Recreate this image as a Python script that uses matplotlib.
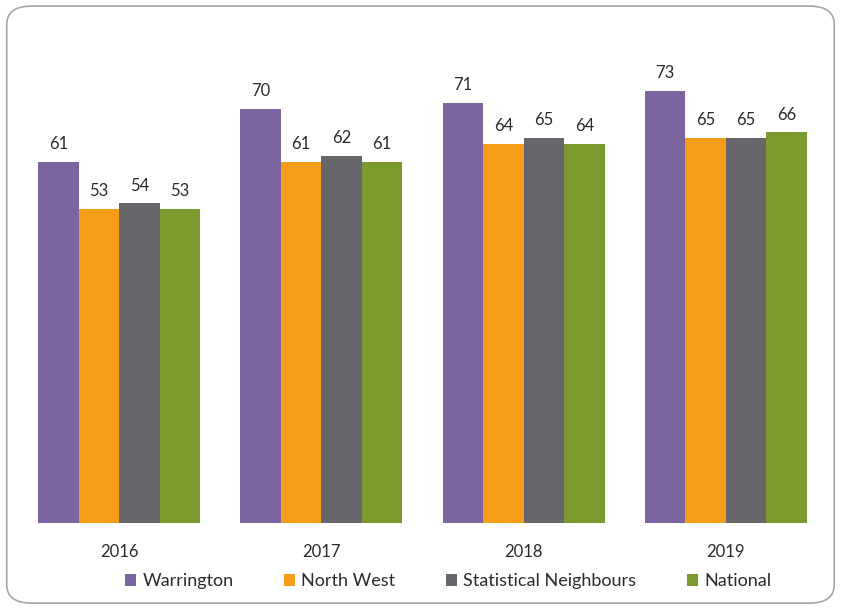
import numpy as np
import matplotlib.pyplot as plt
from matplotlib.patches import FancyBboxPatch

# datos del grafico
years = ['2016', '2017', '2018', '2019']
warrington = [61, 70, 71, 73]
north_west = [53, 61, 64, 65]
stat_neighbours = [54, 62, 65, 65]
national = [53, 61, 64, 66]

series = [('Warrington', warrington, '#7B64A0'),
          ('North West', north_west, '#F59D18'),
          ('Statistical Neighbours', stat_neighbours, '#67666A'),
          ('National', national, '#7A9A2E')]

plt.rcParams['font.family'] = ['Lato', 'DejaVu Sans']
txt_color = '#2B2B2B'

fig = plt.figure(figsize=(8.41, 6.08), dpi=100)

# marco redondeado
frame = FancyBboxPatch((0.008, 0.008), 0.984, 0.982, boxstyle='round,pad=0,rounding_size=0.03',
                       transform=fig.transFigure, facecolor='none', edgecolor='#A6A6A6',
                       linewidth=1.2, zorder=0)
fig.patches.append(frame)

ax = fig.add_axes([0.0214, 0.1398, 0.962, 0.779])
ax.set_facecolor('none')

x = np.arange(len(years))
w = 0.2
for i, (name, vals, color) in enumerate(series):
    pos = x + (i - 1.5) * w
    bars = ax.bar(pos, vals, width=w, color=color, label=name)
    for b, v in zip(bars, vals):
        ax.annotate(str(v), (b.get_x() + b.get_width() / 2, v), xytext=(0, 7),
                    textcoords='offset points', ha='center', va='bottom',
                    fontsize=12, color=txt_color)

ax.set_xlim(-0.5, 3.5)
ax.set_ylim(0, 80)
ax.set_xticks(x)
ax.set_xticklabels(years, fontsize=12, color=txt_color)
ax.tick_params(axis='x', length=0, pad=15)
ax.set_yticks([])
for s in ax.spines.values():
    s.set_visible(False)

fig.legend(loc='center', bbox_to_anchor=(0.533, 0.044), ncol=4, frameon=False,
           fontsize=13, handlelength=0.6, handleheight=0.6, handletextpad=0.35,
           columnspacing=2.8, labelcolor=txt_color)

plt.savefig('out.png', dpi=100)
